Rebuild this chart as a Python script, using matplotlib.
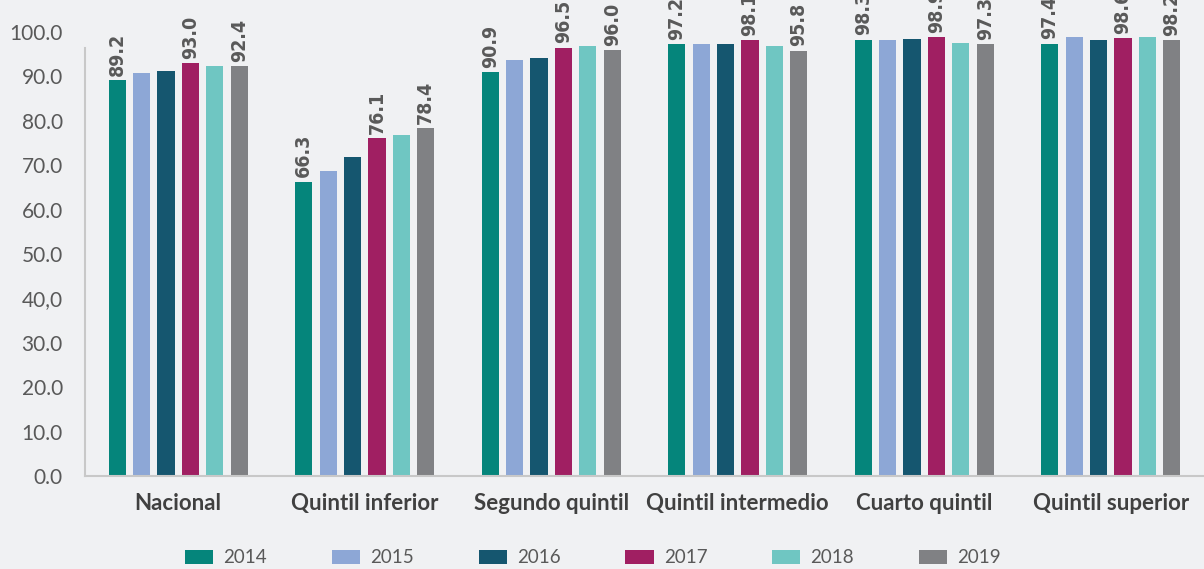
import matplotlib
matplotlib.use("Agg")
import matplotlib.pyplot as plt
import numpy as np
from matplotlib.font_manager import fontManager

categories = ["Nacional", "Quintil inferior", "Segundo quintil",
              "Quintil intermedio", "Cuarto quintil", "Quintil superior"]
years = ["2014", "2015", "2016", "2017", "2018", "2019"]
v2014 = [89.2, 66.3, 90.9, 97.2, 98.3, 97.4]
v2015 = [90.7, 68.6, 93.6, 97.2, 98.3, 98.9]
v2016 = [91.3, 71.8, 94.1, 97.4, 98.5, 98.2]
v2017 = [93.0, 76.1, 96.5, 98.1, 98.9, 98.6]
v2018 = [92.3, 76.7, 96.8, 96.9, 97.5, 98.9]
v2019 = [92.4, 78.4, 96.0, 95.8, 97.3, 98.2]
series = [v2014, v2015, v2016, v2017, v2018, v2019]
labeled = {"2014", "2017", "2019"}
yticks = [0, 10, 20, 30, 40, 50, 60, 70, 80, 90, 100]
yticklabels = ["0.0", "10.0", "20.0", "30.0", "40,0", "50.0", "60.0",
               "70.0", "80.0", "90.0", "100.0"]

colors = ["#05857B", "#8DA7D6", "#15566F", "#A01F62", "#6FC6C2", "#808184"]
bg = "#F0F1F3"

names = {f.name for f in fontManager.ttflist}
base = "Lato" if "Lato" in names else "DejaVu Sans"
plt.rcParams["font.family"] = [base, "DejaVu Sans"]

fig = plt.figure(figsize=(12.04, 5.69), dpi=100, facecolor=bg)
ax = fig.add_axes([85/1204, 1-476/569, 1-85/1204, (476-32)/569])
ax.set_facecolor(bg)

x = np.arange(len(categories))
pitch = 0.131
width = 0.092
for i, (yr, vals, c) in enumerate(zip(years, series, colors)):
    pos = x + (i - 2.5) * pitch
    ax.bar(pos, vals, width=width, color=c, label=yr, zorder=2, clip_on=False)
    if yr in labeled:
        for px, v in zip(pos, vals):
            ax.annotate(f"{v:.1f}", (px, v), xytext=(0, 3), textcoords="offset points",
                        rotation=90, ha="center", va="bottom", fontsize=14,
                        fontweight="bold", fontstretch="condensed",
                        color="#595959", family="DejaVu Sans",
                        annotation_clip=False)

ax.set_xlim(-0.5, len(categories) - 0.5)
ax.set_ylim(0, 100)
ax.set_yticks(yticks)
ax.set_yticklabels(yticklabels, fontsize=15, color="#595959")
ax.set_xticks(x)
ax.set_xticklabels(categories, fontsize=16, fontweight="bold", color="#404040")
ax.tick_params(axis="both", length=0)
ax.tick_params(axis="y", pad=16)
ax.tick_params(axis="x", pad=12)
for s in ["top", "right"]:
    ax.spines[s].set_visible(False)
ax.spines["left"].set_color("#C8C8C8")
ax.spines["left"].set_linewidth(1.5)
ax.spines["left"].set_bounds(0, 96.5)
ax.spines["bottom"].set_color("#C8C8C8")
ax.spines["bottom"].set_linewidth(1.5)

fig.legend(loc="lower center", ncol=6, frameon=False, fontsize=13.5,
           bbox_to_anchor=(0.4925, -0.025), handlelength=1.5, handleheight=0.8,
           handletextpad=0.55, columnspacing=3.45, labelcolor="#595959")

fig.savefig("out.png", dpi=100, facecolor=bg)
